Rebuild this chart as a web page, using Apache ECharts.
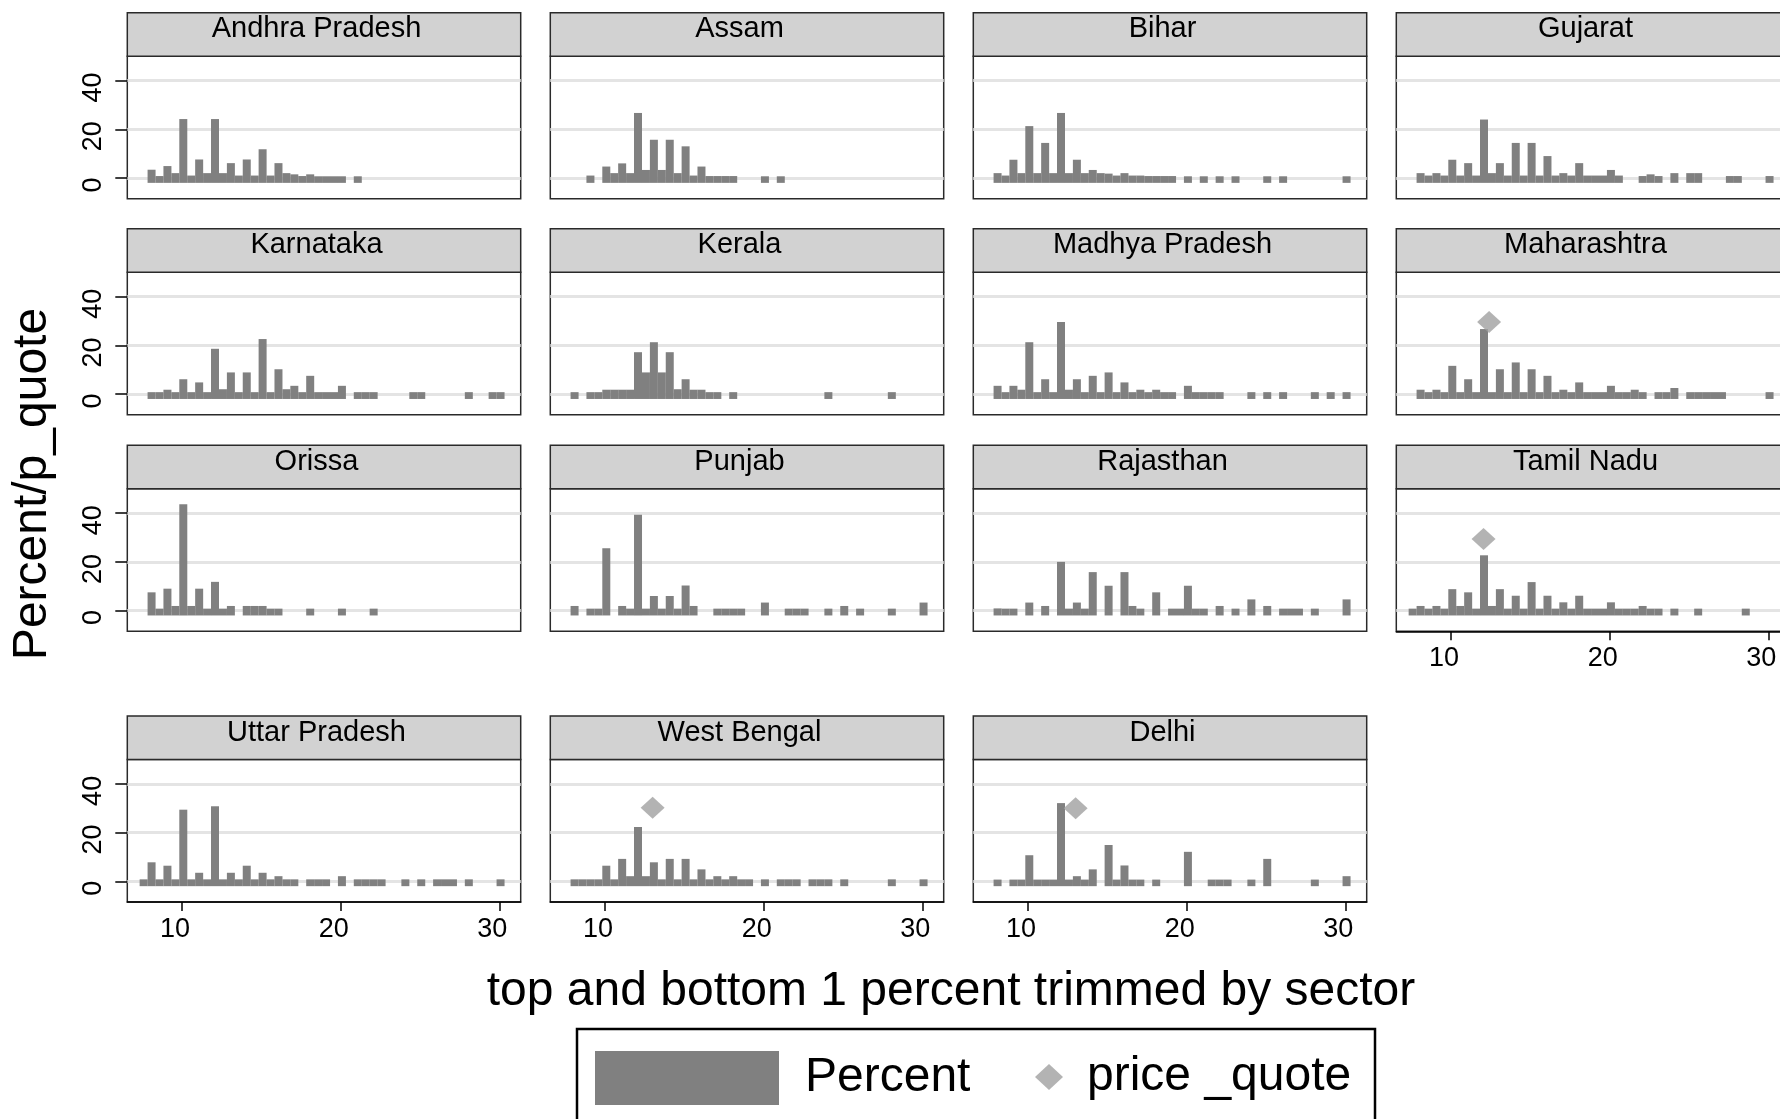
<!DOCTYPE html>
<html><head><meta charset="utf-8">
<script src="https://cdn.jsdelivr.net/npm/echarts@6/dist/echarts.min.js"></script>
<style>html,body{margin:0;padding:0;background:#fff}#c{width:1780px;height:1119px}</style>
</head><body><div id="c"></div>
<script>
// ---- data: [bin centre, percent] ----
const andhraPradesh = [[8.08,3.4],[8.58,0.8],[9.08,4.9],[9.58,2],[10.08,24.2],[10.58,1],[11.08,7.6],[11.58,2],[12.08,24.2],[12.58,2],[13.08,6.1],[13.58,1],[14.08,7.6],[14.58,1],[15.08,11.8],[15.58,1],[16.08,6.1],[16.58,2],[17.08,1.5],[17.58,0.8],[18.08,1.5],[18.58,0.7],[19.08,0.7],[19.58,0.7],[20.08,0.7],[21.08,0.7]];
const assam = [[9.08,1],[10.08,4.7],[10.58,2],[11.08,6],[11.58,2],[12.08,26.7],[12.58,3.3],[13.08,15.7],[13.58,3.3],[14.08,15.7],[14.58,2],[15.08,13],[15.58,1],[16.08,4.7],[16.58,0.8],[17.08,0.8],[17.58,0.8],[18.08,0.8],[20.08,0.7],[21.08,0.7]];
const bihar = [[8.08,2],[8.58,1],[9.08,7.5],[9.58,2],[10.08,21.3],[10.58,2],[11.08,14.4],[11.58,2],[12.08,26.7],[12.58,2],[13.08,7.5],[13.58,2],[14.08,3.3],[14.58,2],[15.08,1.8],[15.58,1],[16.08,2],[16.58,1],[17.08,1],[17.58,0.8],[18.08,0.8],[18.58,0.8],[19.08,0.8],[20.08,0.7],[21.08,0.7],[22.08,0.7],[23.08,0.7],[25.08,0.7],[26.08,0.7],[30.08,0.7]];
const gujarat = [[8.08,2],[8.58,1],[9.08,2],[9.58,1],[10.08,7.5],[10.58,1],[11.08,6.1],[11.58,1],[12.08,24],[12.58,2],[13.08,6.1],[13.58,1],[14.08,14.4],[14.58,1],[15.08,14.4],[15.58,1],[16.08,9],[16.58,1],[17.08,2],[17.58,1],[18.08,6.1],[18.58,1],[19.08,1],[19.58,1],[20.08,3.3],[20.58,1],[22.08,0.8],[22.58,1.5],[23.08,0.8],[24.08,2],[25.08,2],[25.58,2],[27.58,0.8],[28.08,0.8],[30.08,0.8]];
const karnataka = [[8.08,0.8],[8.58,0.8],[9.08,1.8],[9.58,0.8],[10.08,6.1],[10.58,0.8],[11.08,4.8],[11.58,0.8],[12.08,18.6],[12.58,2],[13.08,8.9],[13.58,0.8],[14.08,8.9],[14.58,0.8],[15.08,22.6],[15.58,0.8],[16.08,10.2],[16.58,2],[17.08,3.4],[17.58,0.8],[18.08,7.5],[18.58,0.8],[19.08,0.8],[19.58,0.8],[20.08,3.4],[21.08,0.8],[21.58,0.8],[22.08,0.8],[24.58,0.8],[25.08,0.8],[28.08,0.8],[29.58,0.8],[30.08,0.8]];
const kerala = [[8.08,0.8],[9.08,0.8],[9.58,0.8],[10.08,1.8],[10.58,1.8],[11.08,1.8],[11.58,1.8],[12.08,17.2],[12.58,8.9],[13.08,21.3],[13.58,8.9],[14.08,17.2],[14.58,2],[15.08,6.1],[15.58,1.8],[16.08,1.8],[16.58,0.8],[17.08,0.8],[18.08,0.8],[24.08,0.8],[28.08,0.8]];
const madhyaPradesh = [[8.08,3.4],[8.58,0.8],[9.08,3.4],[9.58,1.8],[10.08,21.3],[10.58,0.8],[11.08,6.1],[11.58,0.8],[12.08,29.6],[12.58,1.8],[13.08,6.1],[13.58,0.8],[14.08,7.5],[14.58,0.8],[15.08,8.9],[15.58,0.8],[16.08,4.8],[16.58,0.8],[17.08,1.8],[17.58,0.8],[18.08,1.8],[18.58,0.8],[19.08,0.8],[20.08,3.4],[20.58,0.8],[21.08,0.8],[21.58,0.8],[22.08,0.8],[24.08,0.8],[25.08,0.8],[26.08,0.8],[28.08,0.8],[29.08,0.8],[30.08,0.8]];
const maharashtra = [[8.08,1.8],[8.58,0.8],[9.08,1.8],[9.58,0.8],[10.08,11.6],[10.58,0.8],[11.08,6.1],[11.58,0.8],[12.08,26.7],[12.58,0.8],[13.08,10.2],[13.58,0.8],[14.08,13],[14.58,0.8],[15.08,10.2],[15.58,0.8],[16.08,7.5],[16.58,0.8],[17.08,1.8],[17.58,0.8],[18.08,4.8],[18.58,0.8],[19.08,0.8],[19.58,0.8],[20.08,3.4],[20.58,0.8],[21.08,0.8],[21.58,1.8],[22.08,0.8],[23.08,0.8],[23.58,0.8],[24.08,2.5],[25.08,0.8],[25.58,0.8],[26.08,0.8],[26.58,0.8],[27.08,0.8],[30.08,0.8]];
const orissa = [[8.08,7.5],[8.58,0.8],[9.08,9],[9.58,1.9],[10.08,43.7],[10.58,1.9],[11.08,9],[11.58,0.8],[12.08,11.8],[12.58,0.8],[13.08,1.9],[14.08,1.9],[14.58,1.9],[15.08,1.9],[15.58,0.8],[16.08,0.8],[18.08,0.8],[20.08,0.8],[22.08,0.8]];
const punjab = [[8.08,1.9],[9.08,0.8],[9.58,0.8],[10.08,25.6],[11.08,1.9],[11.58,0.8],[12.08,39.3],[12.58,0.8],[13.08,6],[13.58,0.8],[14.08,6],[14.58,0.8],[15.08,10.3],[15.58,1.9],[17.08,0.8],[17.58,0.8],[18.08,0.8],[18.58,0.8],[20.08,3.3],[21.58,0.8],[22.08,0.8],[22.58,0.8],[24.08,0.8],[25.08,1.9],[26.08,0.8],[28.08,0.8],[30.08,3.3]];
const rajasthan = [[8.08,0.9],[8.58,0.8],[9.08,0.8],[10.08,3.3],[11.08,1.9],[12.08,20],[12.58,0.8],[13.08,3.3],[13.58,0.8],[14.08,15.8],[15.08,10.2],[16.08,15.8],[16.58,1.9],[17.08,0.8],[18.08,7.5],[19.08,0.8],[19.58,0.8],[20.08,10.2],[20.58,0.8],[21.08,0.8],[22.08,1.9],[23.08,0.8],[24.08,4.6],[25.08,1.9],[26.08,0.8],[26.58,0.8],[27.08,0.8],[28.08,0.8],[30.08,4.6]];
const tamilNadu = [[7.58,0.8],[8.08,1.9],[8.58,0.8],[9.08,1.9],[9.58,0.8],[10.08,8.8],[10.58,1.9],[11.08,7.5],[11.58,0.8],[12.08,22.7],[12.58,1.9],[13.08,8.8],[13.58,0.8],[14.08,6.1],[14.58,0.8],[15.08,11.7],[15.58,0.8],[16.08,6.1],[16.58,0.8],[17.08,3.4],[17.58,0.8],[18.08,6.1],[18.58,0.8],[19.08,0.8],[19.58,0.8],[20.08,3.4],[20.58,0.8],[21.08,0.8],[21.58,0.8],[22.08,1.9],[22.58,0.8],[23.08,0.8],[24.08,0.8],[25.58,0.8],[28.58,0.8]];
const uttarPradesh = [[7.58,0.8],[8.08,7.8],[8.58,0.8],[9.08,6.4],[9.58,0.8],[10.08,29.4],[10.58,0.8],[11.08,3.5],[11.58,0.8],[12.08,30.8],[12.58,0.8],[13.08,3.5],[13.58,0.8],[14.08,6.4],[14.58,0.8],[15.08,3.5],[15.58,0.8],[16.08,2.1],[16.58,0.8],[17.08,0.8],[18.08,0.8],[18.58,0.8],[19.08,0.8],[20.08,2.1],[21.08,0.8],[21.58,0.8],[22.08,0.8],[22.58,0.8],[24.08,0.8],[25.08,0.8],[26.08,0.8],[26.58,0.8],[27.08,0.8],[28.08,0.8],[30.08,0.8]];
const westBengal = [[8.08,0.8],[8.58,0.8],[9.08,0.8],[9.58,0.8],[10.08,6.4],[10.58,0.8],[11.08,9.2],[11.58,2.1],[12.08,22.3],[12.58,2.1],[13.08,7.8],[13.58,0.8],[14.08,9.2],[14.58,0.8],[15.08,9.2],[15.58,0.8],[16.08,4.9],[16.58,0.8],[17.08,2.1],[17.58,0.8],[18.08,2.1],[18.58,0.8],[19.08,0.8],[20.08,0.8],[21.08,0.8],[21.58,0.8],[22.08,0.8],[23.08,0.8],[23.58,0.8],[24.08,0.8],[25.08,0.8],[28.08,0.8],[30.08,0.8]];
const delhi = [[8.08,0.7],[9.08,0.7],[9.58,0.7],[10.08,10.7],[10.58,0.7],[11.08,0.7],[11.58,0.7],[12.08,32.1],[12.58,0.7],[13.08,2.1],[13.58,0.7],[14.08,4.9],[15.08,14.9],[15.58,0.7],[16.08,6.5],[16.58,0.7],[17.08,0.7],[18.08,0.7],[20.08,12.1],[21.58,0.7],[22.08,0.7],[22.58,0.7],[24.08,0.7],[25.08,9.2],[28.08,0.7],[30.08,2.1]];

// price quote markers [price, y]
const pqMaharashtra = [[12.4, 29.6]];
const pqTamilNadu = [[12.05, 29.4]];
const pqWestBengal = [[13.0, 30.2]];
const pqDelhi = [[13.0, 30.0]];

const states = ['Andhra Pradesh','Assam','Bihar','Gujarat','Karnataka','Kerala','Madhya Pradesh','Maharashtra','Orissa','Punjab','Rajasthan','Tamil Nadu','Uttar Pradesh','West Bengal','Delhi'];
const percentSeries = [andhraPradesh,assam,bihar,gujarat,karnataka,kerala,madhyaPradesh,maharashtra,orissa,punjab,rajasthan,tamilNadu,uttarPradesh,westBengal,delhi];
const priceSeries = {7: pqMaharashtra, 11: pqTamilNadu, 13: pqWestBengal, 14: pqDelhi};

const xTicks = [10, 20, 30];
const yTicks = [0, 20, 40];
const xTitle = 'top and bottom 1 percent trimmed by sector';
const yTitle = 'Percent/p_quote';

// ---- layout / style ----
const FONT = '"Liberation Sans", Arial, Helvetica, sans-serif';
const colLeft = [127.3, 550.3, 973.3, 1396.3];
const rowTop = [12.7, 228.8, 445.3, 716];
const panelW = 393.4, headH = 43.5, plotH = 142.5;
const X_MIN = 6.55, X_MAX = 31.35, Y_MIN = -8.5, Y_MAX = 50;
const BAR = '#808080', DIAMOND = '#a0a0a0', HEAD = '#d2d2d2', FRAME = '#2a2a2a';
const withXAxis = new Set([11, 12, 13, 14]);

const grids = [], xAxes = [], yAxes = [], series = [], graphics = [];
states.forEach((name, i) => {
  const r = Math.floor(i / 4), c = i % 4;
  const left = colLeft[c], top = rowTop[r];
  grids.push({left: left, top: top + headH, width: panelW, height: plotH, show: true,
    borderColor: FRAME, borderWidth: 1.5, backgroundColor: '#fff', containLabel: false, outerBoundsMode: 'none'});
  const sx = withXAxis.has(i);
  xAxes.push({type: 'value', gridIndex: i, min: X_MIN, max: X_MAX,
    axisLine: {show: sx, onZero: false, lineStyle: {color: '#000', width: 1.5}},
    axisTick: {show: sx, customValues: xTicks, length: 9, lineStyle: {color: '#000', width: 1.5}},
    axisLabel: {show: sx, customValues: xTicks, fontSize: 27, fontFamily: FONT, color: '#000', margin: 14, padding: [0, 14, 0, 0]},
    splitLine: {show: false}});
  const sy = c === 0;
  yAxes.push({type: 'value', gridIndex: i, min: Y_MIN, max: Y_MAX, startValue: -2,
    axisLine: {show: false, onZero: false},
    axisTick: {show: sy, customValues: yTicks, length: 12, lineStyle: {color: '#000', width: 1.5}},
    axisLabel: {show: sy, customValues: yTicks, rotate: 90, fontSize: 27, fontFamily: FONT, color: '#000', margin: 20, padding: [0, 14, 0, 0]},
    splitLine: {show: true, lineStyle: {color: '#e4e4e4', width: 3}}});
  series.push({type: 'bar', name: 'Percent', xAxisIndex: i, yAxisIndex: i, data: percentSeries[i],
    barWidth: 8, itemStyle: {color: BAR}, silent: true, animation: false});
  if (priceSeries[i]) {
    series.push({type: 'scatter', name: 'price _quote', xAxisIndex: i, yAxisIndex: i, data: priceSeries[i],
      symbol: 'diamond', symbolSize: [24, 22], itemStyle: {color: DIAMOND}, z: 5, silent: true, animation: false});
  }
  graphics.push({type: 'rect', shape: {x: left, y: top, width: panelW, height: headH},
    style: {fill: HEAD, stroke: FRAME, lineWidth: 1.5}, silent: true});
  graphics.push({type: 'text', x: left + panelW / 2 - 7.5, y: top + 16.5, silent: true,
    style: {text: name, fontSize: 29, fontFamily: FONT, fill: '#000', align: 'center', verticalAlign: 'middle', textAlign: 'center', textVerticalAlign: 'middle'}});
});

graphics.push({type: 'text', x: 951, y: 992, silent: true,
  style: {text: xTitle, fontSize: 48, fontFamily: FONT, fill: '#000', align: 'center', verticalAlign: 'middle', textAlign: 'center', textVerticalAlign: 'middle'}});
graphics.push({type: 'text', x: 33, y: 484, rotation: Math.PI / 2, silent: true,
  style: {text: yTitle, fontSize: 48, fontFamily: FONT, fill: '#000', align: 'center', verticalAlign: 'middle', textAlign: 'center', textVerticalAlign: 'middle'}});
graphics.push({type: 'rect', shape: {x: 577, y: 1029, width: 798, height: 150},
  style: {fill: 'none', stroke: '#000', lineWidth: 2.5}, silent: true});

const chart = echarts.init(document.getElementById('c'), null, {renderer: 'canvas'});
chart.setOption({
  animation: false,
  backgroundColor: '#fff',
  textStyle: {fontFamily: FONT},
  grid: grids, xAxis: xAxes, yAxis: yAxes, series: series,
  legend: [
    {data: [{name: 'Percent', icon: 'rect'}], left: 595, top: 1051, padding: 0, itemWidth: 184, itemHeight: 54,
     selectedMode: false, textStyle: {fontSize: 48, fontFamily: FONT, color: '#000', padding: [0, 0, 0, 21]}},
    {data: [{name: 'price _quote', icon: 'diamond'}], left: 1035, top: 1053, padding: 0, itemWidth: 28, itemHeight: 26,
     selectedMode: false, textStyle: {fontSize: 48, fontFamily: FONT, color: '#000', padding: [0, 0, 0, 19]}}
  ],
  graphic: graphics
});
</script></body></html>
